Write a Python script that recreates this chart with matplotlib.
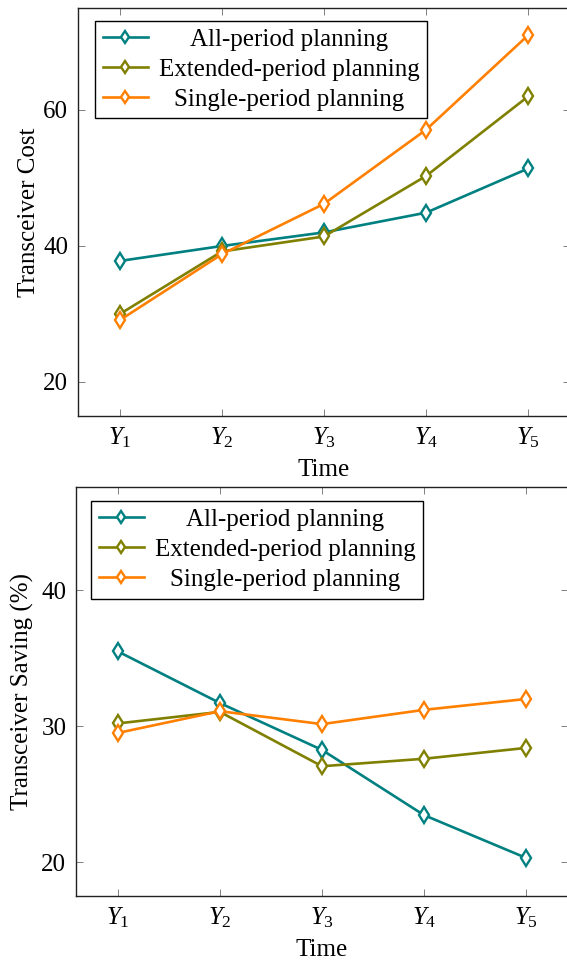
import numpy as np
import matplotlib
matplotlib.use("Agg")
import matplotlib.pyplot as plt

plt.rcParams['font.family'] = ['Liberation Serif', 'DejaVu Serif']
plt.rcParams['mathtext.fontset'] = 'custom'
plt.rcParams['mathtext.rm'] = 'Liberation Serif'
plt.rcParams['mathtext.it'] = 'Liberation Serif:italic'

# data
years = [1, 2, 3, 4, 5]
year_labels = ['$Y_1$', '$Y_2$', '$Y_3$', '$Y_4$', '$Y_5$']
series_names = ['All-period planning', 'Extended-period planning', 'Single-period planning']
colors = ['#008080', '#808000', '#ff8000']

cost_all = [37.8, 40.0, 42.0, 44.9, 51.4]
cost_ext = [30.0, 39.2, 41.4, 50.3, 62.0]
cost_single = [29.1, 38.8, 46.2, 57.1, 71.0]

save_all = [35.5, 31.7, 28.25, 23.45, 20.3]
save_ext = [30.2, 31.05, 27.05, 27.6, 28.4]
save_single = [29.5, 31.1, 30.15, 31.2, 32.0]

FS = 18

fig = plt.figure(figsize=(5.67, 9.63), dpi=100)
ax1 = fig.add_axes([78/567, 1-416/963, 492/567, 408/963])
ax2 = fig.add_axes([76/567, 1-896/963, 492/567, 409/963])


def draw(ax, data, ylabel, ylim, yticks, anchor, ylpad):
    for vals, name, c in zip(data, series_names, colors):
        ax.plot(years, vals, color=c, lw=1.9, marker='d', ms=8.5,
                mfc='white', mec=c, mew=1.7, label=name)
    ax.set_xlim(0.59, 5.41)
    ax.set_ylim(*ylim)
    ax.set_xticks(years)
    ax.set_xticklabels(year_labels)
    ax.set_yticks(yticks)
    ax.tick_params(direction='in', length=5, width=0.7, color='#808080',
                   top=True, right=True, labelsize=FS, pad=7)
    for s in ax.spines.values():
        s.set_linewidth(1.0)
        s.set_color('#222222')
    ax.set_xlabel('Time', fontsize=FS, labelpad=6)
    ax.set_ylabel(ylabel, fontsize=FS, labelpad=ylpad)
    leg = ax.legend(loc='upper left', bbox_to_anchor=anchor, borderaxespad=0,
                    fontsize=FS, frameon=True, fancybox=False, framealpha=1,
                    edgecolor='black', handlelength=1.8, handletextpad=0.45,
                    labelspacing=0.3, borderpad=0.3, markerscale=0.7)
    leg.get_frame().set_linewidth(1.0)
    return leg


leg1 = draw(ax1, [cost_all, cost_ext, cost_single], 'Transceiver Cost',
            (15, 75), [20, 40, 60], (17/492, 1-13/408), 2)
leg2 = draw(ax2, [save_all, save_ext, save_single], 'Transceiver Saving (%)',
            (17.5, 47.6), [20, 30, 40], (15/492, 1-14/409), 5)

# center legend texts like pgfplots
fig.canvas.draw()
r = fig.canvas.get_renderer()
for leg in [leg1, leg2]:
    texts = leg.get_texts()
    widths = [t.get_window_extent(r).width for t in texts]
    wmax = max(widths)
    for t, w in zip(texts, widths):
        t.set_position(((wmax - w) / 2, 0))

fig.savefig('out.png', dpi=100)
